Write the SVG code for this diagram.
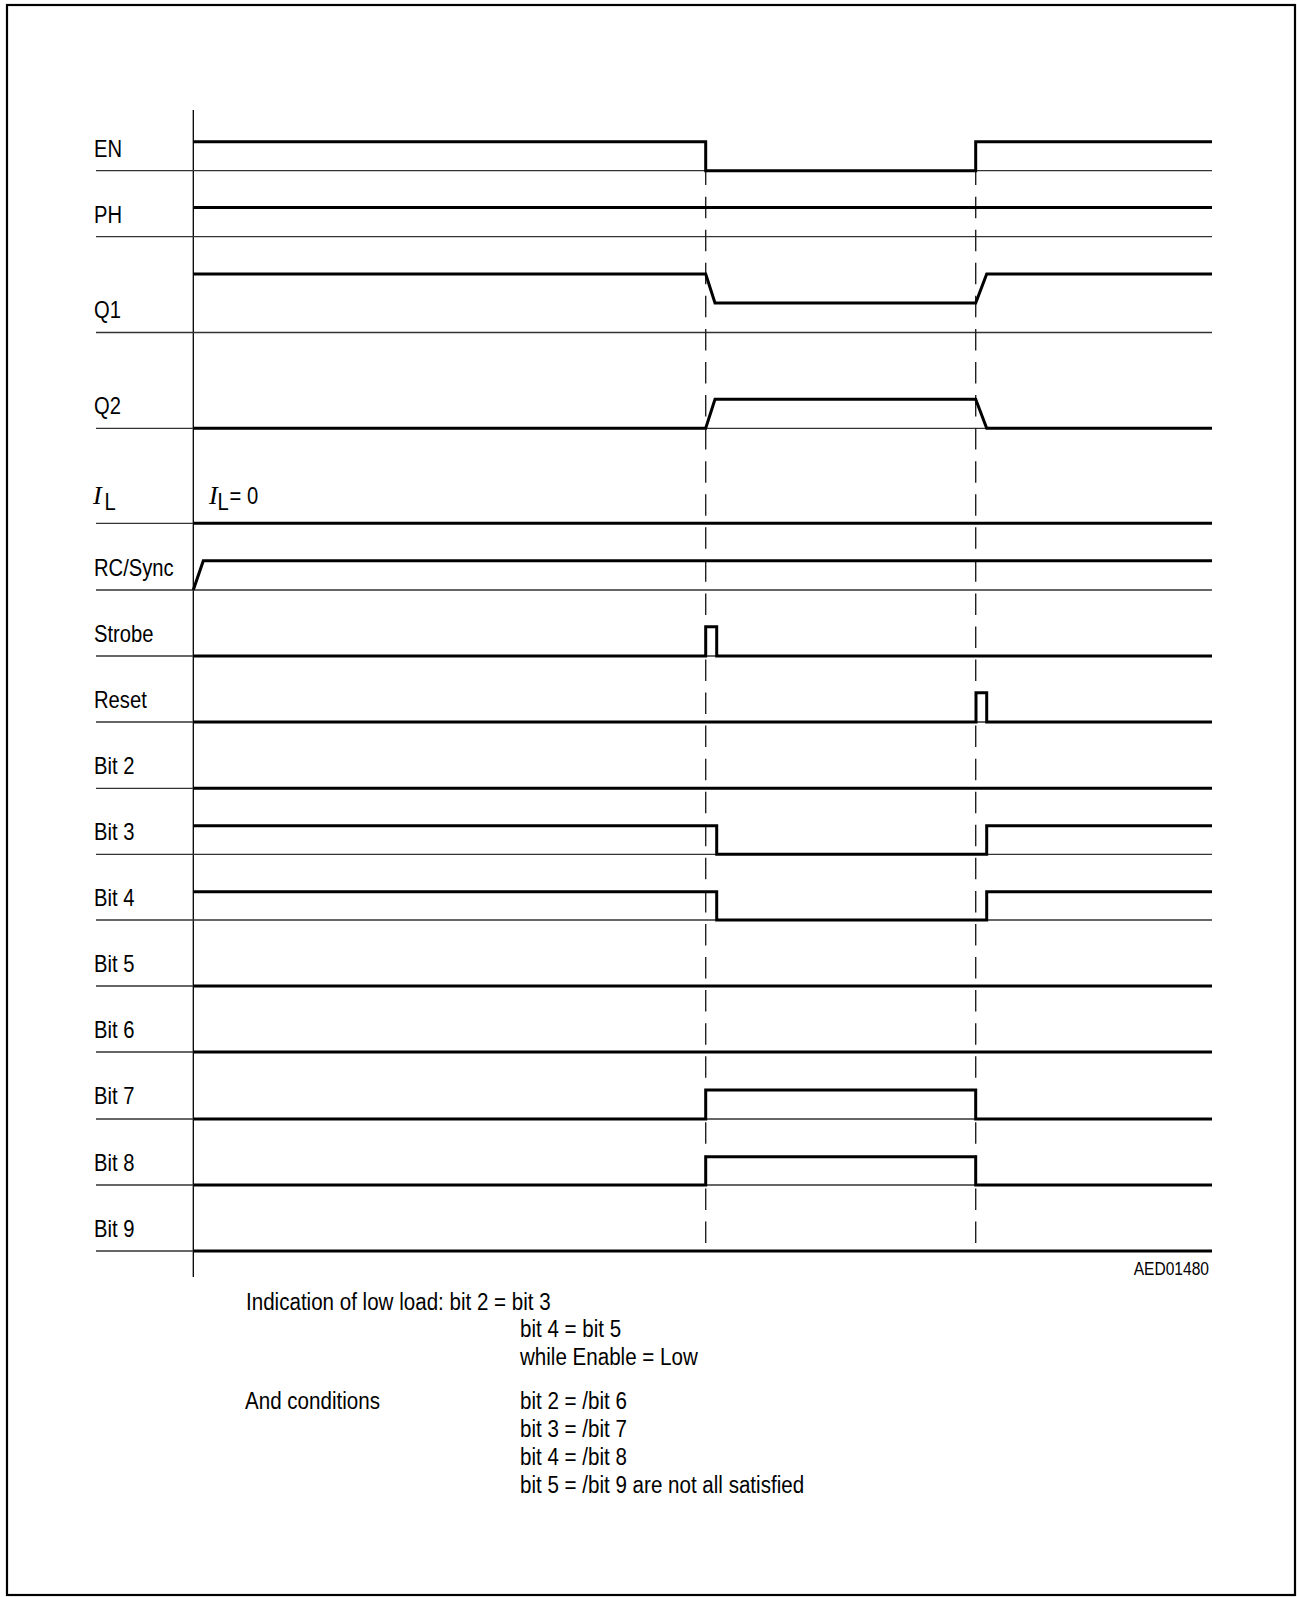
<svg xmlns="http://www.w3.org/2000/svg" width="1297" height="1597" viewBox="0 0 1297 1597">
<style>
.frame{fill:none;stroke:#000;stroke-width:2.2}
.axis{fill:none;stroke:#000;stroke-width:1.3}
.base{fill:none;stroke:#333;stroke-width:1.3}
.sig{fill:none;stroke:#000;stroke-width:3;stroke-linejoin:miter;stroke-linecap:butt}
.dash{fill:none;stroke:#222;stroke-width:1.4;stroke-dasharray:21.5 11.56}
text{font-family:"Liberation Sans",Arial,sans-serif;fill:#000}
.lbl{font-size:23.5px}
.note{font-size:24.5px}
.code{font-size:19px}
.it{font-family:"Liberation Serif","Times New Roman",serif;font-style:italic;font-size:26px}
</style>
<rect class="frame" x="7" y="5" width="1288" height="1590"/>
<line class="axis" x1="193.3" y1="110" x2="193.3" y2="1277"/>
<g id="baselines">
<line class="base" x1="96" y1="170.7" x2="1212" y2="170.7"/>
<line class="base" x1="96" y1="236.7" x2="1212" y2="236.7"/>
<line class="base" x1="96" y1="332.5" x2="1212" y2="332.5"/>
<line class="base" x1="96" y1="428.3" x2="1212" y2="428.3"/>
<line class="base" x1="96" y1="523.3" x2="1212" y2="523.3"/>
<line class="base" x1="96" y1="590" x2="1212" y2="590"/>
<line class="base" x1="96" y1="656" x2="1212" y2="656"/>
<line class="base" x1="96" y1="722" x2="1212" y2="722"/>
<line class="base" x1="96" y1="788.3" x2="1212" y2="788.3"/>
<line class="base" x1="96" y1="854.3" x2="1212" y2="854.3"/>
<line class="base" x1="96" y1="920" x2="1212" y2="920"/>
<line class="base" x1="96" y1="986" x2="1212" y2="986"/>
<line class="base" x1="96" y1="1052" x2="1212" y2="1052"/>
<line class="base" x1="96" y1="1119" x2="1212" y2="1119"/>
<line class="base" x1="96" y1="1185" x2="1212" y2="1185"/>
<line class="base" x1="96" y1="1251" x2="1212" y2="1251"/>
</g>
<g id="connectors">
<line class="dash" x1="705.7" y1="163.6" x2="705.7" y2="1244"/>
<line class="dash" x1="975.7" y1="163.6" x2="975.7" y2="1244"/>
</g>
<g id="sig-EN">
<text class="lbl" transform="translate(94,156.5) scale(0.86,1)">EN</text>
<polyline class="sig" points="193.3,141.7 705.7,141.7 705.7,170.7 975.7,170.7 975.7,141.7 1212,141.7"/>
</g>
<g id="sig-PH">
<text class="lbl" transform="translate(94,222.5) scale(0.86,1)">PH</text>
<polyline class="sig" points="193.3,207.5 1212,207.5"/>
</g>
<g id="sig-Q1">
<text class="lbl" transform="translate(94,317.5) scale(0.86,1)">Q1</text>
<polyline class="sig" points="193.3,274 705.7,274 715,303 975.7,303 986.7,274 1212,274"/>
</g>
<g id="sig-Q2">
<text class="lbl" transform="translate(94,413.5) scale(0.86,1)">Q2</text>
<polyline class="sig" points="193.3,428.3 705.7,428.3 715,399.3 975.7,399.3 986.7,428.3 1212,428.3"/>
</g>
<g id="sig-IL">
<text class="it" x="93" y="504">I</text>
<text class="lbl" transform="translate(104.5,510) scale(0.86,1)">L</text>
<text class="it" x="209" y="504">I</text>
<text class="lbl" transform="translate(217.5,510) scale(0.86,1)">L</text>
<text class="lbl" transform="translate(229.5,504) scale(0.86,1)">= 0</text>
<polyline class="sig" points="193.3,523.3 1212,523.3"/>
</g>
<g id="sig-RCSync">
<text class="lbl" transform="translate(94,575.5) scale(0.86,1)">RC/Sync</text>
<polyline class="sig" points="193.3,590 203.3,560.7 1212,560.7"/>
</g>
<g id="sig-Strobe">
<text class="lbl" transform="translate(94,641.5) scale(0.86,1)">Strobe</text>
<polyline class="sig" points="193.3,656 705.7,656 705.7,626.7 716.7,626.7 716.7,656 1212,656"/>
</g>
<g id="sig-Reset">
<text class="lbl" transform="translate(94,707.5) scale(0.86,1)">Reset</text>
<polyline class="sig" points="193.3,722 976,722 976,692.7 986.7,692.7 986.7,722 1212,722"/>
</g>
<g id="sig-Bit2">
<text class="lbl" transform="translate(94,773.5) scale(0.86,1)">Bit 2</text>
<polyline class="sig" points="193.3,788.3 1212,788.3"/>
</g>
<g id="sig-Bit3">
<text class="lbl" transform="translate(94,839.5) scale(0.86,1)">Bit 3</text>
<polyline class="sig" points="193.3,825.7 716.7,825.7 716.7,854.3 986.7,854.3 986.7,825.7 1212,825.7"/>
</g>
<g id="sig-Bit4">
<text class="lbl" transform="translate(94,905.5) scale(0.86,1)">Bit 4</text>
<polyline class="sig" points="193.3,891.7 716.7,891.7 716.7,920 986.7,920 986.7,891.7 1212,891.7"/>
</g>
<g id="sig-Bit5">
<text class="lbl" transform="translate(94,971.5) scale(0.86,1)">Bit 5</text>
<polyline class="sig" points="193.3,986 1212,986"/>
</g>
<g id="sig-Bit6">
<text class="lbl" transform="translate(94,1037.5) scale(0.86,1)">Bit 6</text>
<polyline class="sig" points="193.3,1052 1212,1052"/>
</g>
<g id="sig-Bit7">
<text class="lbl" transform="translate(94,1104) scale(0.86,1)">Bit 7</text>
<polyline class="sig" points="193.3,1119 705.7,1119 705.7,1090 975.7,1090 975.7,1119 1212,1119"/>
</g>
<g id="sig-Bit8">
<text class="lbl" transform="translate(94,1170.5) scale(0.86,1)">Bit 8</text>
<polyline class="sig" points="193.3,1185 705.7,1185 705.7,1156.7 975.7,1156.7 975.7,1185 1212,1185"/>
</g>
<g id="sig-Bit9">
<text class="lbl" transform="translate(94,1236.5) scale(0.86,1)">Bit 9</text>
<polyline class="sig" points="193.3,1251 1212,1251"/>
</g>
<text class="code" transform="translate(1209,1275) scale(0.82,1)" text-anchor="end">AED01480</text>
<g id="notes">
<text class="note" transform="translate(246,1310) scale(0.84,1)">Indication of low load: bit 2 = bit 3</text>
<text class="note" transform="translate(520,1337) scale(0.84,1)">bit 4 = bit 5</text>
<text class="note" transform="translate(520,1365) scale(0.84,1)">while Enable = Low</text>
<text class="note" transform="translate(245,1409) scale(0.84,1)">And conditions</text>
<text class="note" transform="translate(520,1409) scale(0.84,1)">bit 2 = /bit 6</text>
<text class="note" transform="translate(520,1437) scale(0.84,1)">bit 3 = /bit 7</text>
<text class="note" transform="translate(520,1465) scale(0.84,1)">bit 4 = /bit 8</text>
<text class="note" transform="translate(520,1493) scale(0.84,1)">bit 5 = /bit 9 are not all satisfied</text>
</g>
</svg>
